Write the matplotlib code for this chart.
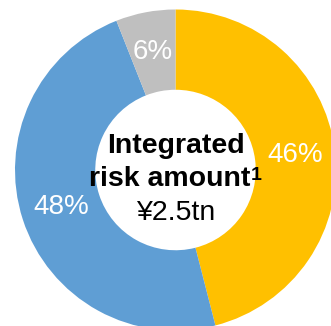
import matplotlib
matplotlib.use("Agg")
import matplotlib.pyplot as plt

# Risk composition shares (%)
categories = ["Credit risk", "Market risk", "Operational risk"]
shares = [46, 48, 6]
colors = ["#FFC000", "#5F9ED4", "#BFBFBF"]
center_title = ["Integrated", "risk amount"]
footnote_mark = "1"
center_total = "\u00a52.5tn"

W, H = 331, 326
fig = plt.figure(figsize=(W / 100, H / 100), dpi=100)
ax = fig.add_axes([0, 0, 1, 1])

cx, cy, r = 175.5, H - 170, 160.5
wedges, texts, autotexts = ax.pie(
    shares,
    colors=colors,
    startangle=90,
    counterclock=False,
    radius=r,
    center=(cx, cy),
    wedgeprops=dict(width=r * 0.5, linewidth=0),
    autopct="%.0f%%",
    pctdistance=0.75,
    textprops=dict(color="white", fontsize=20, family="Liberation Sans"),
    frame=False,
)
ax.set_xlim(0, W)
ax.set_ylim(0, H)
ax.set_aspect("equal")
ax.axis("off")

font = dict(family="Liberation Sans", color="black")
ax.text(cx, H - 153, center_title[0], ha="center", va="baseline",
        fontsize=20.5, fontweight="bold", **font)
line2 = ax.text(0, H - 186, center_title[1], ha="left", va="baseline",
                fontsize=20.5, fontweight="bold", **font)
sup = ax.text(0, H - 180, footnote_mark, ha="left", va="baseline",
              fontsize=14, fontweight="bold", **font)
ax.text(cx, H - 220, center_total, ha="center", va="baseline",
        fontsize=20.5, **font)

# centre "risk amount" together with its footnote mark
fig.canvas.draw()
renderer = fig.canvas.get_renderer()
w_main = line2.get_window_extent(renderer).width
w_sup = sup.get_window_extent(renderer).width
x0 = cx - (w_main + w_sup + 1) / 2
line2.set_x(x0)
sup.set_x(x0 + w_main + 1)

fig.savefig("out.png", dpi=100)
